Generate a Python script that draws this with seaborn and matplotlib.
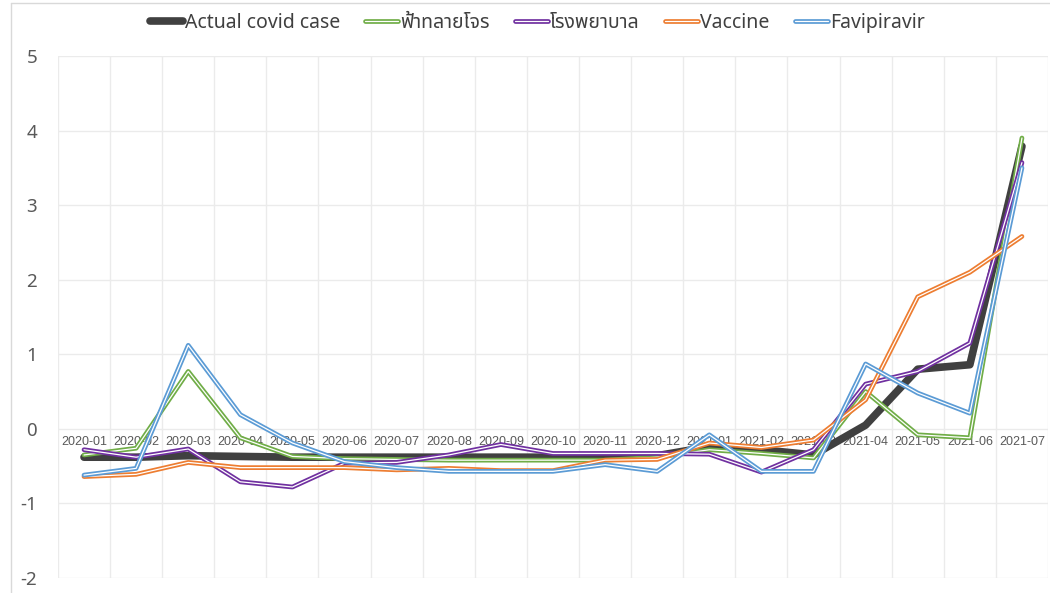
import matplotlib
matplotlib.use('Agg')
import matplotlib.pyplot as plt
import matplotlib.patheffects as pe
import seaborn as sns
import numpy as np
import pandas as pd

months = ["2020-01", "2020-02", "2020-03", "2020-04", "2020-05", "2020-06",
          "2020-07", "2020-08", "2020-09", "2020-10", "2020-11", "2020-12",
          "2021-01", "2021-02", "2021-03", "2021-04", "2021-05", "2021-06", "2021-07"]

actual = [-0.38, -0.38, -0.36, -0.37, -0.38, -0.38, -0.38, -0.38, -0.38, -0.38,
          -0.37, -0.36, -0.24, -0.28, -0.35, 0.05, 0.80, 0.86, 3.79]
fatalai = [-0.35, -0.26, 0.77, -0.12, -0.37, -0.40, -0.41, -0.42, -0.42, -0.42,
           -0.42, -0.38, -0.28, -0.33, -0.39, 0.50, -0.08, -0.12, 3.90]
hospital = [-0.28, -0.38, -0.27, -0.71, -0.78, -0.46, -0.45, -0.35, -0.21, -0.33,
            -0.33, -0.33, -0.34, -0.58, -0.28, 0.60, 0.77, 1.15, 3.57]
vaccine = [-0.64, -0.61, -0.45, -0.52, -0.52, -0.52, -0.55, -0.53, -0.56, -0.56,
           -0.42, -0.41, -0.19, -0.25, -0.15, 0.39, 1.77, 2.10, 2.58]
favipiravir = [-0.62, -0.53, 1.12, 0.19, -0.19, -0.44, -0.52, -0.57, -0.57, -0.57,
               -0.48, -0.57, -0.08, -0.57, -0.57, 0.87, 0.48, 0.21, 3.50]

series_names = ["Actual covid case", "ฟ้าทลายโจร", "โรงพยาบาล", "Vaccine", "Favipiravir"]
series_values = [actual, fatalai, hospital, vaccine, favipiravir]
series_colors = ["#404040", "#70ad47", "#7030a0", "#ed7d31", "#5b9bd5"]

sns.set_theme(style="white")
plt.rcParams['font.family'] = ['Noto Sans', 'Noto Sans Thai', 'DejaVu Sans']
plt.rcParams['axes.unicode_minus'] = False

fig = plt.figure(figsize=(10.5, 5.93), dpi=100)
ax = fig.add_axes([0.0552, 0.0253, 0.9429, 0.8803])

x = np.arange(len(months))
for name, vals, col in zip(series_names, series_values, series_colors):
    df = pd.DataFrame({"x": x, "y": vals})
    if name == "Actual covid case":
        sns.lineplot(data=df, x="x", y="y", ax=ax, color=col, lw=5.5, label=name, zorder=3)
    else:
        # Excel-style double line: coloured stroke with a thin white core
        sns.lineplot(data=df, x="x", y="y", ax=ax, color="white", lw=0.9, label=name, zorder=4)
        ax.lines[-1].set_path_effects([pe.Stroke(linewidth=3.4, foreground=col), pe.Normal()])

ax.set_xlim(-0.5, len(months) - 0.5)
ax.set_ylim(-2, 5)
ax.set_yticks(range(-2, 6))
ax.set_xticks(x)
ax.set_xticklabels(months)
ax.set_xticks(np.arange(-0.5, len(months), 1), minor=True)
ax.tick_params(axis="x", which="both", length=0, pad=5, labelsize=9,
               labelcolor="#595959", labelfontfamily="Liberation Sans")
ax.tick_params(axis="y", length=0, labelsize=13.5, colors="#595959", pad=15)
ax.spines['bottom'].set_position(('data', 0))
for s in ax.spines.values():
    s.set_visible(False)
ax.grid(False)
ax.grid(True, axis="y", which="major", color="#ebebeb", lw=1)
ax.grid(True, axis="x", which="minor", color="#ebebeb", lw=1)
ax.set_xlabel("")
ax.set_ylabel("")

leg = ax.legend(loc="center", bbox_to_anchor=(0.484, 1.063), ncol=5, frameon=False,
                fontsize=14, handlelength=1.7, handletextpad=0.1, columnspacing=1.3)
for t in leg.get_texts():
    t.set_color("#404040")

fig.add_artist(plt.Line2D([0.01, 0.01], [0.0, 0.995], color="#d9d9d9", lw=1))
fig.add_artist(plt.Line2D([0.01, 1.0], [0.995, 0.995], color="#d9d9d9", lw=1))

fig.savefig("out.png", dpi=100)
